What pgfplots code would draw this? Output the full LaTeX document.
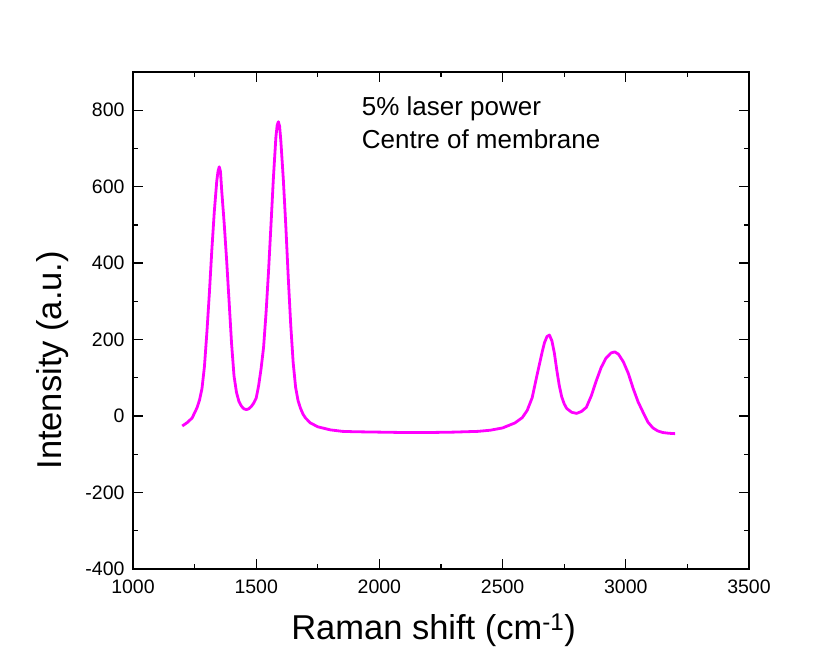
\documentclass[border=0pt]{standalone}
\usepackage{pgfplots}
\pgfplotsset{compat=1.18}
\usepackage{fontspec}
\setmainfont{Liberation Sans}
\definecolor{curvemag}{RGB}{255,0,255}
\begin{document}
\begin{tikzpicture}
\begin{axis}[
  scale only axis,
  width=616pt, height=497pt,
  xmin=1000, xmax=3500, ymin=-400, ymax=900,
  xtick={1000,1500,...,3500},
  ytick={-400,-200,...,800},
  minor x tick num=1, minor y tick num=1,
  tick align=inside,
  xtick pos=both, ytick pos=both,
  xticklabel pos=lower, yticklabel pos=left,
  major tick length=10pt, minor tick length=5pt,
  every tick/.style={line width=1.3pt, black},
  axis line style={line width=1.6pt},
  /pgf/number format/assume math mode=true,
  /pgf/number format/1000 sep={},
  tick label style={font=\fontsize{19.5}{19.5}\selectfont},
  xticklabel style={yshift=-7pt},
  yticklabel style={xshift=-5pt},
  xlabel={Raman shift (cm\textsuperscript{-1})},
  ylabel={Intensity (a.u.)},
  label style={font=\fontsize{34.5}{34.5}\selectfont},
  xlabel style={at={(axis description cs:0.488,0)}, anchor=base, yshift=-71pt},
  ylabel style={at={(axis description cs:0,0.42)}, anchor=base, rotate=0, yshift=71pt},
  clip=false,
]
\addplot[color=curvemag, line width=2.8pt, line join=round] coordinates {
(1200,-26) (1220,-17) (1240,-5) (1260,22) (1270,42) (1280,72) (1290,130) (1300,220)
(1310,322) (1320,435) (1330,535) (1340,615) (1345,640) (1350,652) (1355,640) (1360,590)
(1370,505) (1380,408) (1390,300) (1400,190) (1410,105) (1420,62) (1430,38) (1440,26)
(1450,19) (1460,17) (1470,19) (1480,25) (1490,34) (1500,47) (1510,80) (1520,125)
(1530,180) (1540,270) (1550,378) (1560,500) (1570,625) (1580,730) (1585,760) (1590,770)
(1595,758) (1600,720) (1610,620) (1620,500) (1630,364) (1640,240) (1650,140) (1660,75)
(1670,40) (1680,20) (1690,5) (1700,-5) (1720,-18) (1750,-28) (1800,-36) (1850,-40)
(1900,-41) (2000,-42) (2100,-43) (2200,-43) (2300,-42) (2400,-40) (2450,-37) (2500,-31)
(2550,-18) (2580,-4) (2600,15) (2620,48) (2640,108) (2660,166) (2670,192) (2680,208)
(2690,212) (2700,197) (2710,165) (2720,120) (2730,80) (2740,50) (2750,32) (2760,20)
(2780,10) (2800,7) (2820,12) (2840,23) (2860,53) (2880,92) (2900,127) (2920,152)
(2940,165) (2955,168) (2970,162) (2990,142) (3010,112) (3030,72) (3050,37) (3070,10)
(3090,-16) (3110,-31) (3130,-39) (3150,-43) (3175,-45) (3200,-46)
};
\node[anchor=base west, font=\fontsize{26}{26}\selectfont, inner sep=0pt] at (axis cs:1928,785) {5\% laser power};
\node[anchor=base west, font=\fontsize{26}{26}\selectfont, inner sep=0pt] at (axis cs:1928,700) {Centre of membrane};
\end{axis}
\path (current axis.south west) ++(-133pt,-94pt) coordinate (bbA);
\path (current axis.north east) ++(65pt,72pt) coordinate (bbB);
\path[use as bounding box] (bbA) rectangle (bbB);
\end{tikzpicture}
\end{document}
